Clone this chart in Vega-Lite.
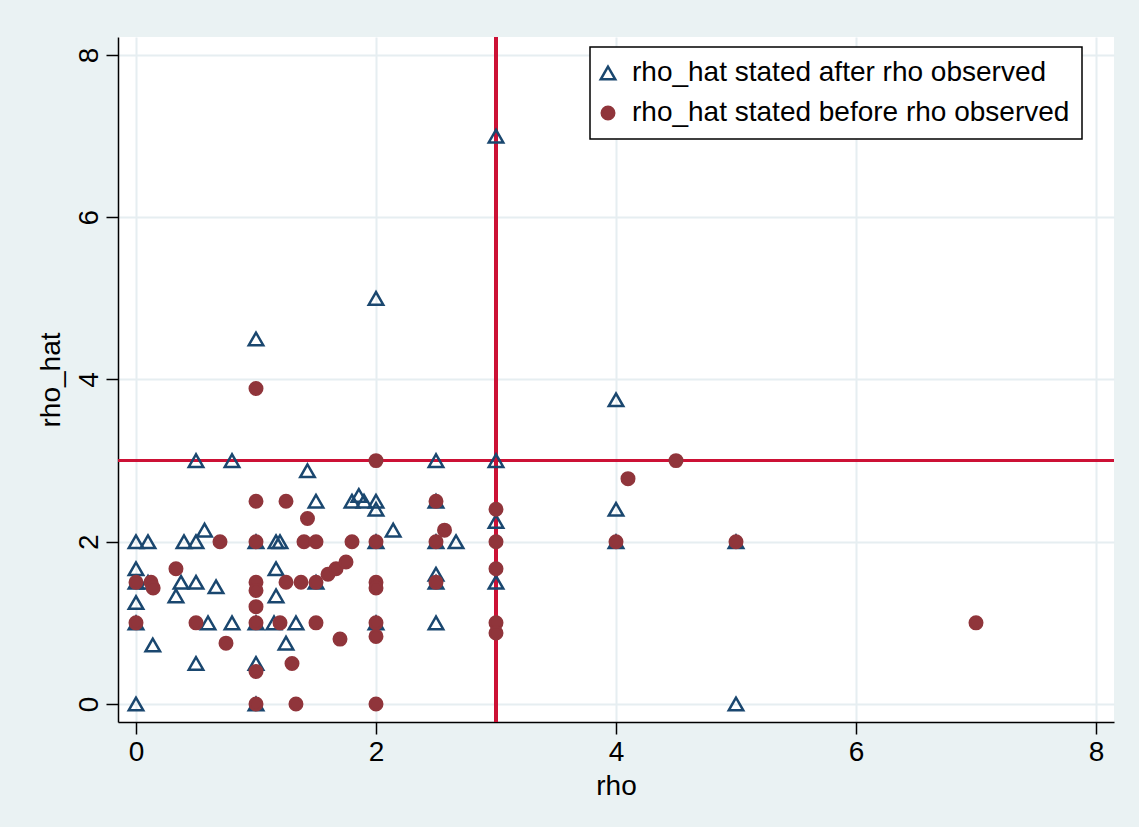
{
  "$schema": "https://vega.github.io/schema/vega-lite/v6.json",
  "width": 996,
  "height": 685,
  "autosize": {"type": "none"},
  "padding": {"left": 118, "top": 37, "right": 25, "bottom": 105},
  "background": "#EAF2F3",
  "config": {
    "view": {"fill": "white", "stroke": null},
    "font": "Liberation Sans",
    "axis": {
      "grid": true,
      "gridColor": "#E6EEF1",
      "gridWidth": 2,
      "domainColor": "black",
      "domainWidth": 1.5,
      "tickColor": "black",
      "tickWidth": 1.5,
      "tickSize": 12,
      "labelFontSize": 28,
      "labelColor": "black",
      "titleFontSize": 28,
      "titleFontWeight": "normal",
      "titleColor": "black",
      "labelFont": "Liberation Sans",
      "titleFont": "Liberation Sans"
    },
    "legend": {
      "strokeWidth": 1.5
    }
  },
  "data": {
    "values": [
      {"rho": 0, "rho_hat": 2, "group": "rho_hat stated after rho observed"},
      {"rho": 0, "rho_hat": 1.667, "group": "rho_hat stated after rho observed"},
      {"rho": 0, "rho_hat": 1.5, "group": "rho_hat stated after rho observed"},
      {"rho": 0, "rho_hat": 1.25, "group": "rho_hat stated after rho observed"},
      {"rho": 0, "rho_hat": 1, "group": "rho_hat stated after rho observed"},
      {"rho": 0, "rho_hat": 0, "group": "rho_hat stated after rho observed"},
      {"rho": 0.1, "rho_hat": 2, "group": "rho_hat stated after rho observed"},
      {"rho": 0.1, "rho_hat": 1.5, "group": "rho_hat stated after rho observed"},
      {"rho": 0.14, "rho_hat": 0.727, "group": "rho_hat stated after rho observed"},
      {"rho": 0.333, "rho_hat": 1.333, "group": "rho_hat stated after rho observed"},
      {"rho": 0.375, "rho_hat": 1.5, "group": "rho_hat stated after rho observed"},
      {"rho": 0.4, "rho_hat": 2, "group": "rho_hat stated after rho observed"},
      {"rho": 0.5, "rho_hat": 3, "group": "rho_hat stated after rho observed"},
      {"rho": 0.5, "rho_hat": 2, "group": "rho_hat stated after rho observed"},
      {"rho": 0.5, "rho_hat": 1.5, "group": "rho_hat stated after rho observed"},
      {"rho": 0.5, "rho_hat": 0.5, "group": "rho_hat stated after rho observed"},
      {"rho": 0.571, "rho_hat": 2.143, "group": "rho_hat stated after rho observed"},
      {"rho": 0.6, "rho_hat": 1, "group": "rho_hat stated after rho observed"},
      {"rho": 0.667, "rho_hat": 1.444, "group": "rho_hat stated after rho observed"},
      {"rho": 0.8, "rho_hat": 3, "group": "rho_hat stated after rho observed"},
      {"rho": 0.8, "rho_hat": 1, "group": "rho_hat stated after rho observed"},
      {"rho": 1, "rho_hat": 4.5, "group": "rho_hat stated after rho observed"},
      {"rho": 1, "rho_hat": 2, "group": "rho_hat stated after rho observed"},
      {"rho": 1, "rho_hat": 1, "group": "rho_hat stated after rho observed"},
      {"rho": 1, "rho_hat": 0.5, "group": "rho_hat stated after rho observed"},
      {"rho": 1, "rho_hat": 0, "group": "rho_hat stated after rho observed"},
      {"rho": 1.167, "rho_hat": 2, "group": "rho_hat stated after rho observed"},
      {"rho": 1.2, "rho_hat": 2, "group": "rho_hat stated after rho observed"},
      {"rho": 1.167, "rho_hat": 1.667, "group": "rho_hat stated after rho observed"},
      {"rho": 1.167, "rho_hat": 1.333, "group": "rho_hat stated after rho observed"},
      {"rho": 1.15, "rho_hat": 1, "group": "rho_hat stated after rho observed"},
      {"rho": 1.25, "rho_hat": 0.75, "group": "rho_hat stated after rho observed"},
      {"rho": 1.333, "rho_hat": 1, "group": "rho_hat stated after rho observed"},
      {"rho": 1.429, "rho_hat": 2.875, "group": "rho_hat stated after rho observed"},
      {"rho": 1.5, "rho_hat": 2.5, "group": "rho_hat stated after rho observed"},
      {"rho": 1.5, "rho_hat": 1.5, "group": "rho_hat stated after rho observed"},
      {"rho": 1.8, "rho_hat": 2.5, "group": "rho_hat stated after rho observed"},
      {"rho": 1.857, "rho_hat": 2.571, "group": "rho_hat stated after rho observed"},
      {"rho": 1.9, "rho_hat": 2.5, "group": "rho_hat stated after rho observed"},
      {"rho": 2, "rho_hat": 5, "group": "rho_hat stated after rho observed"},
      {"rho": 2, "rho_hat": 2.5, "group": "rho_hat stated after rho observed"},
      {"rho": 2, "rho_hat": 2.4, "group": "rho_hat stated after rho observed"},
      {"rho": 2, "rho_hat": 2, "group": "rho_hat stated after rho observed"},
      {"rho": 2, "rho_hat": 1, "group": "rho_hat stated after rho observed"},
      {"rho": 2.143, "rho_hat": 2.143, "group": "rho_hat stated after rho observed"},
      {"rho": 2.5, "rho_hat": 3, "group": "rho_hat stated after rho observed"},
      {"rho": 2.5, "rho_hat": 2.5, "group": "rho_hat stated after rho observed"},
      {"rho": 2.5, "rho_hat": 2, "group": "rho_hat stated after rho observed"},
      {"rho": 2.5, "rho_hat": 1.6, "group": "rho_hat stated after rho observed"},
      {"rho": 2.5, "rho_hat": 1.5, "group": "rho_hat stated after rho observed"},
      {"rho": 2.5, "rho_hat": 1, "group": "rho_hat stated after rho observed"},
      {"rho": 2.667, "rho_hat": 2, "group": "rho_hat stated after rho observed"},
      {"rho": 3, "rho_hat": 7, "group": "rho_hat stated after rho observed"},
      {"rho": 3, "rho_hat": 3, "group": "rho_hat stated after rho observed"},
      {"rho": 3, "rho_hat": 2.25, "group": "rho_hat stated after rho observed"},
      {"rho": 3, "rho_hat": 1.5, "group": "rho_hat stated after rho observed"},
      {"rho": 4, "rho_hat": 3.75, "group": "rho_hat stated after rho observed"},
      {"rho": 4, "rho_hat": 2.4, "group": "rho_hat stated after rho observed"},
      {"rho": 4, "rho_hat": 2, "group": "rho_hat stated after rho observed"},
      {"rho": 5, "rho_hat": 2, "group": "rho_hat stated after rho observed"},
      {"rho": 5, "rho_hat": 0, "group": "rho_hat stated after rho observed"},
      {"rho": 0, "rho_hat": 1.5, "group": "rho_hat stated before rho observed"},
      {"rho": 0, "rho_hat": 1, "group": "rho_hat stated before rho observed"},
      {"rho": 0.125, "rho_hat": 1.5, "group": "rho_hat stated before rho observed"},
      {"rho": 0.143, "rho_hat": 1.429, "group": "rho_hat stated before rho observed"},
      {"rho": 0.333, "rho_hat": 1.667, "group": "rho_hat stated before rho observed"},
      {"rho": 0.5, "rho_hat": 1, "group": "rho_hat stated before rho observed"},
      {"rho": 0.7, "rho_hat": 2, "group": "rho_hat stated before rho observed"},
      {"rho": 0.75, "rho_hat": 0.75, "group": "rho_hat stated before rho observed"},
      {"rho": 1, "rho_hat": 3.889, "group": "rho_hat stated before rho observed"},
      {"rho": 1, "rho_hat": 2.5, "group": "rho_hat stated before rho observed"},
      {"rho": 1, "rho_hat": 2, "group": "rho_hat stated before rho observed"},
      {"rho": 1, "rho_hat": 1.5, "group": "rho_hat stated before rho observed"},
      {"rho": 1, "rho_hat": 1.4, "group": "rho_hat stated before rho observed"},
      {"rho": 1, "rho_hat": 1.2, "group": "rho_hat stated before rho observed"},
      {"rho": 1, "rho_hat": 1, "group": "rho_hat stated before rho observed"},
      {"rho": 1, "rho_hat": 0.4, "group": "rho_hat stated before rho observed"},
      {"rho": 1, "rho_hat": 0, "group": "rho_hat stated before rho observed"},
      {"rho": 1.2, "rho_hat": 1, "group": "rho_hat stated before rho observed"},
      {"rho": 1.25, "rho_hat": 2.5, "group": "rho_hat stated before rho observed"},
      {"rho": 1.25, "rho_hat": 1.5, "group": "rho_hat stated before rho observed"},
      {"rho": 1.3, "rho_hat": 0.5, "group": "rho_hat stated before rho observed"},
      {"rho": 1.333, "rho_hat": 0, "group": "rho_hat stated before rho observed"},
      {"rho": 1.375, "rho_hat": 1.5, "group": "rho_hat stated before rho observed"},
      {"rho": 1.4, "rho_hat": 2, "group": "rho_hat stated before rho observed"},
      {"rho": 1.429, "rho_hat": 2.286, "group": "rho_hat stated before rho observed"},
      {"rho": 1.5, "rho_hat": 2, "group": "rho_hat stated before rho observed"},
      {"rho": 1.5, "rho_hat": 1.5, "group": "rho_hat stated before rho observed"},
      {"rho": 1.5, "rho_hat": 1, "group": "rho_hat stated before rho observed"},
      {"rho": 1.6, "rho_hat": 1.6, "group": "rho_hat stated before rho observed"},
      {"rho": 1.667, "rho_hat": 1.667, "group": "rho_hat stated before rho observed"},
      {"rho": 1.75, "rho_hat": 1.75, "group": "rho_hat stated before rho observed"},
      {"rho": 1.7, "rho_hat": 0.8, "group": "rho_hat stated before rho observed"},
      {"rho": 1.8, "rho_hat": 2, "group": "rho_hat stated before rho observed"},
      {"rho": 2, "rho_hat": 3, "group": "rho_hat stated before rho observed"},
      {"rho": 2, "rho_hat": 2, "group": "rho_hat stated before rho observed"},
      {"rho": 2, "rho_hat": 1.5, "group": "rho_hat stated before rho observed"},
      {"rho": 2, "rho_hat": 1.429, "group": "rho_hat stated before rho observed"},
      {"rho": 2, "rho_hat": 1, "group": "rho_hat stated before rho observed"},
      {"rho": 2, "rho_hat": 0.833, "group": "rho_hat stated before rho observed"},
      {"rho": 2, "rho_hat": 0, "group": "rho_hat stated before rho observed"},
      {"rho": 2.5, "rho_hat": 2.5, "group": "rho_hat stated before rho observed"},
      {"rho": 2.5, "rho_hat": 2, "group": "rho_hat stated before rho observed"},
      {"rho": 2.5, "rho_hat": 1.5, "group": "rho_hat stated before rho observed"},
      {"rho": 2.571, "rho_hat": 2.143, "group": "rho_hat stated before rho observed"},
      {"rho": 3, "rho_hat": 2.4, "group": "rho_hat stated before rho observed"},
      {"rho": 3, "rho_hat": 2, "group": "rho_hat stated before rho observed"},
      {"rho": 3, "rho_hat": 1.667, "group": "rho_hat stated before rho observed"},
      {"rho": 3, "rho_hat": 1, "group": "rho_hat stated before rho observed"},
      {"rho": 3, "rho_hat": 0.875, "group": "rho_hat stated before rho observed"},
      {"rho": 4, "rho_hat": 2, "group": "rho_hat stated before rho observed"},
      {"rho": 4.1, "rho_hat": 2.778, "group": "rho_hat stated before rho observed"},
      {"rho": 4.5, "rho_hat": 3, "group": "rho_hat stated before rho observed"},
      {"rho": 5, "rho_hat": 2, "group": "rho_hat stated before rho observed"},
      {"rho": 7, "rho_hat": 1, "group": "rho_hat stated before rho observed"}
    ]
  },
  "layer": [
    {
      "mark": {"type": "rule", "color": "#CC1236", "strokeWidth": 2.5},
      "encoding": {
        "x": {
          "datum": 3, "type": "quantitative",
          "scale": {"domain": [-0.15, 8.15], "nice": false, "zero": false},
          "axis": {"title": "rho", "values": [0, 2, 4, 6, 8], "labelPadding": 4, "titlePadding": 6}
        }
      }
    },
    {
      "mark": {"type": "rule", "color": "#CC1236", "strokeWidth": 2.5},
      "encoding": {
        "y": {
          "datum": 3, "type": "quantitative",
          "scale": {"domain": [-0.222, 8.222], "nice": false, "zero": false},
          "axis": {"title": "rho_hat", "values": [0, 2, 4, 6, 8], "labelAngle": -90, "labelAlign": "center", "labelBaseline": "alphabetic", "labelPadding": 9, "titlePadding": 10}
        }
      }
    },
    {
      "mark": {"type": "point", "strokeWidth": 2.5, "opacity": 1},
      "encoding": {
        "x": {
          "field": "rho", "type": "quantitative",
          "scale": {"domain": [-0.15, 8.15], "nice": false, "zero": false},
          "axis": {"title": "rho", "values": [0, 2, 4, 6, 8], "labelPadding": 4, "titlePadding": 6}
        },
        "y": {
          "field": "rho_hat", "type": "quantitative",
          "scale": {"domain": [-0.222, 8.222], "nice": false, "zero": false},
          "axis": {"title": "rho_hat", "values": [0, 2, 4, 6, 8], "labelAngle": -90, "labelAlign": "center", "labelBaseline": "alphabetic", "labelPadding": 9, "titlePadding": 10}
        },
        "shape": {
          "field": "group", "type": "nominal",
          "scale": {"domain": ["rho_hat stated after rho observed", "rho_hat stated before rho observed"], "range": ["triangle-up", "circle"]},
          "legend": {
            "title": null, "orient": "none", "legendX": 472, "legendY": 10,
            "padding": 12, "strokeColor": "black", "fillColor": "white",
            "labelFontSize": 28, "labelFont": "Liberation Sans", "labelColor": "black", "labelLimit": 0,
            "rowPadding": 12, "labelOffset": 10, "symbolOffset": -8, "symbolStrokeWidth": 2.5
          }
        },
        "stroke": {
          "field": "group", "type": "nominal",
          "scale": {"domain": ["rho_hat stated after rho observed", "rho_hat stated before rho observed"], "range": ["#1A476F", "#90353B"]}
        },
        "fill": {
          "field": "group", "type": "nominal",
          "scale": {"domain": ["rho_hat stated after rho observed", "rho_hat stated before rho observed"], "range": ["transparent", "#90353B"]}
        },
        "size": {
          "field": "group", "type": "nominal",
          "scale": {"domain": ["rho_hat stated after rho observed", "rho_hat stated before rho observed"], "range": [210, 156]}
        }
      }
    }
  ]
}
